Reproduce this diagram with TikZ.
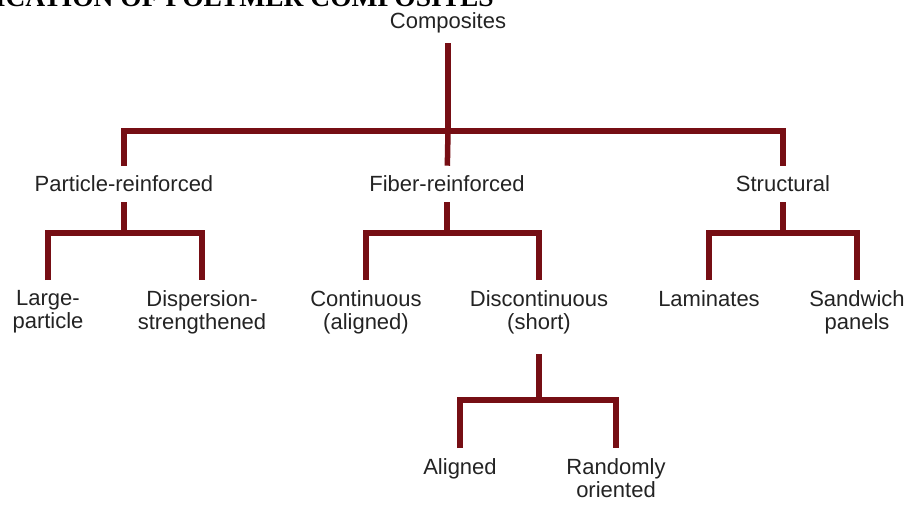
\documentclass[tikz,border=0pt]{standalone}
\usepackage{fontspec}
\setmainfont{Liberation Sans}
\newfontfamily\headfont{Liberation Serif}
\usepackage{xcolor}
\usepackage{tikz}
\definecolor{barred}{RGB}{118,14,20}
\definecolor{labelgray}{RGB}{35,35,35}

\begin{document}
\begin{tikzpicture}[x=1pt,y=-1pt,
  box/.style={inner sep=10pt,text=labelgray,align=center,font=\fontsize{22}{23}\selectfont},
  leaf/.style={box,anchor=north},
  link/.style={draw=barred,line width=5.5pt}]
  \clip (0,0) rectangle (908,511);
  \node[anchor=base east,inner sep=0pt,font=\headfont\bfseries\fontsize{27.5}{29}\selectfont] (head) at (494,7) {ICATION OF POLYMER COMPOSITES};
  % top levels
  \node[box] (comp) at (448,23) {Composites};
  \node[box] (part) at (124,184) {Particle-reinforced};
  \node[box] (fib) at (447,184) {Fiber-reinforced};
  \node[box] (struc) at (783,184) {Structural};
  \node[leaf] (large) at (48,280) {Large-\\particle};
  \node[leaf] (disp) at (202,280) {Dispersion-\\strengthened};
  \node[leaf] (cont) at (366,280) {Continuous\\(aligned)};
  \node[leaf] (disc) at (539,280) {Discontinuous\\(short)};
  \node[leaf] (lam) at (709,280) {Laminates};
  \node[leaf] (sand) at (857,280) {Sandwich\\panels};
  \node[leaf] (align) at (460,448) {Aligned};
  \node[leaf] (rand) at (616,448) {Randomly\\oriented};
  % bar joints
  \coordinate (b0) at (448,131);
  \coordinate (b1) at (124,233);
  \coordinate (b2) at (447,233);
  \coordinate (b3) at (783,233);
  \coordinate (b4) at (539,400);
  \draw[link] (comp) -- (b0);
  \draw[link] (b0) -- (fib);
  \draw[link] (part) |- (b0) -| (struc);
  \draw[link] (part) -- (b1);
  \draw[link] (large) |- (b1) -| (disp);
  \draw[link] (fib) -- (b2);
  \draw[link] (cont) |- (b2) -| (disc);
  \draw[link] (struc) -- (b3);
  \draw[link] (lam) |- (b3) -| (sand);
  \draw[link,shorten <=10pt] (disc) -- (b4);
  \draw[link] (align) |- (b4) -| (rand);
\end{tikzpicture}
\end{document}
